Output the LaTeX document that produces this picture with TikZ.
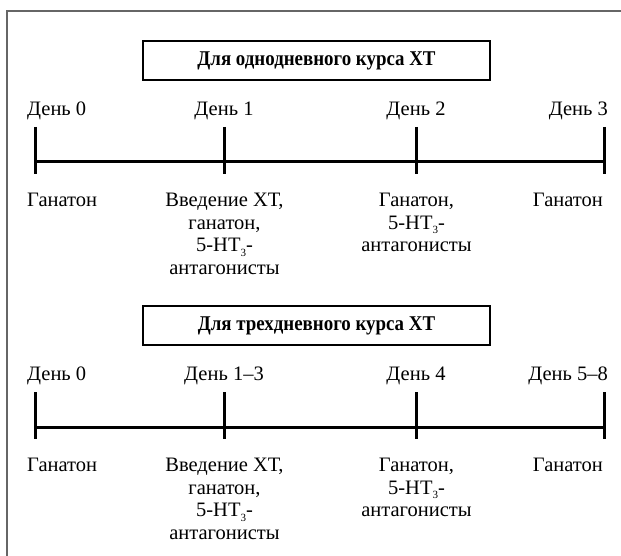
\documentclass[tikz,border=0pt]{standalone}
\usepackage{fontspec}
\setmainfont{Liberation Serif}
\newfontfamily\titlefont[FakeStretch=0.9]{Liberation Serif Bold}
\usetikzlibrary{positioning}
\newcommand{\htsub}{5-HT\raisebox{-0.45ex}{\fontsize{11}{11}\selectfont 3}-}

\begin{document}
\begin{tikzpicture}[
        x=1pt, y=-1pt,
        font=\fontsize{20.5}{22.5}\selectfont,
        titlebox/.style={draw, line width=1.3pt, minimum width=347pt, minimum height=39pt, inner sep=0pt, font=\fontsize{21}{22.5}\titlefont},
        axis/.style={line width=3pt},
        daylbl/.style={anchor=base, inner sep=0pt},
        druglbl/.style={anchor=north, align=center, inner sep=0pt},
        frame/.style={line width=1.5pt, black!60}
    ]
        \useasboundingbox (0,0) rectangle (621,556);
        \draw[frame] (7,560) -- (7,11) -- (625,11);

        % однодневный курс
        \node[titlebox] (ttl1) at (316.5,60.5) {Для однодневного курса ХТ};
        \node[daylbl, anchor=base west] (d10) at (27,115.8)  {День 0};
        \node[daylbl]                   (d11) at (224,115.8) {День 1};
        \node[daylbl]                   (d12) at (416,115.8) {День 2};
        \node[daylbl, anchor=base east] (d13) at (608,115.8) {День 3};

        \coordinate (t10) at (35,127);  \coordinate (b10) at (35,174);
        \coordinate (t11) at (224,127); \coordinate (b11) at (224,174);
        \coordinate (t12) at (416,127); \coordinate (b12) at (416,174);
        \coordinate (t13) at (604,127); \coordinate (b13) at (604,174);
        \coordinate (m10) at (35,162);  \coordinate (m13) at (604,162);
        \draw[axis] (t10) -- (b10);
        \draw[axis] (t11) -- (b11);
        \draw[axis] (t12) -- (b12);
        \draw[axis] (t13) -- (b13);
        \draw[axis] (m10) -- (m13);

        \node[druglbl, anchor=north west] (g10) at (27,193.2)    {Ганатон};
        \node[druglbl]                    (g11) at (224.5,193.2) {Введение ХТ,\\ганатон,\\\htsub\\антагонисты};
        \node[druglbl]                    (g12) at (416.5,193.2) {Ганатон,\\\htsub\\антагонисты};
        \node[druglbl, anchor=north east] (g13) at (603,193.2)   {Ганатон};

        % трехдневный курс
        \node[titlebox] (ttl2) at (316.5,325.5) {Для трехдневного курса ХТ};
        \node[daylbl, anchor=base west] (d20) at (27,380.8)  {День 0};
        \node[daylbl]                   (d21) at (224,380.8) {День 1--3};
        \node[daylbl]                   (d22) at (416,380.8) {День 4};
        \node[daylbl, anchor=base east] (d23) at (608,380.8) {День 5--8};

        \coordinate (t20) at (35,392);  \coordinate (b20) at (35,439);
        \coordinate (t21) at (224,392); \coordinate (b21) at (224,439);
        \coordinate (t22) at (416,392); \coordinate (b22) at (416,439);
        \coordinate (t23) at (604,392); \coordinate (b23) at (604,439);
        \coordinate (m20) at (35,427);  \coordinate (m23) at (604,427);
        \draw[axis] (t20) -- (b20);
        \draw[axis] (t21) -- (b21);
        \draw[axis] (t22) -- (b22);
        \draw[axis] (t23) -- (b23);
        \draw[axis] (m20) -- (m23);

        \node[druglbl, anchor=north west] (g20) at (27,458.2)    {Ганатон};
        \node[druglbl]                    (g21) at (224.5,458.2) {Введение ХТ,\\ганатон,\\\htsub\\антагонисты};
        \node[druglbl]                    (g22) at (416.5,458.2) {Ганатон,\\\htsub\\антагонисты};
        \node[druglbl, anchor=north east] (g23) at (603,458.2)   {Ганатон};
    \end{tikzpicture}
\end{document}
